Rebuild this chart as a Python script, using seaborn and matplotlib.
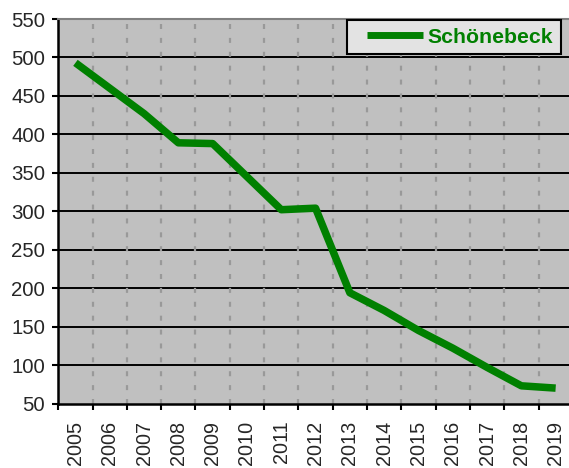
import matplotlib
matplotlib.use("Agg")
import matplotlib.pyplot as plt
from matplotlib.legend_handler import HandlerLine2D
import seaborn as sns
import pandas as pd

# values
years = [str(y) for y in range(2005, 2020)]
population = [493, 460, 427, 389, 388, 345, 302, 304, 194, 171, 145, 122, 97, 73, 70]
series_name = "Schönebeck"
y_ticks = list(range(50, 551, 50))

df = pd.DataFrame({"year": years, "value": population, "place": series_name})

sns.set_theme(style="white")
plt.rcParams["font.family"] = ["Liberation Sans", "DejaVu Sans"]
plt.rcParams["lines.scale_dashes"] = False

fig = plt.figure(figsize=(5.69, 4.68), dpi=100, facecolor="white")
ax = fig.add_axes([58.3 / 569, 1 - 403.5 / 468, 514.5 / 569, 384.5 / 468])
ax.set_facecolor("#C0C0C0")

# horizontal black grid + vertical dashed grey separators
for v in y_ticks[1:-1]:
    ax.axhline(v, color="black", lw=1.4, zorder=1)
for k in range(len(years) - 1):
    ax.axvline(k + 0.5, color="#999999", lw=1.6, dashes=(3.6, 6.4), zorder=1)

sns.lineplot(data=df, x="year", y="value", hue="place", palette=["#008000"],
             lw=5.4, ax=ax, zorder=3, solid_capstyle="butt", solid_joinstyle="round")

ax.set_xlim(-0.5, len(years) - 0.5)
ax.set_ylim(50, 550)
ax.set_yticks(y_ticks)
ax.set_xlabel("")
ax.set_ylabel("")

# category axis: tick marks at boundaries, labels in between
ax.set_xticks([k - 0.5 for k in range(len(years) + 1)])
ax.set_xticklabels([])
ax.set_xticks(range(len(years)), minor=True)
ax.set_xticklabels(years, minor=True, rotation=90, fontsize=14.3)
ax.tick_params(axis="x", which="major", direction="out", length=4.5, width=1.5,
               color="black", bottom=True)
ax.tick_params(axis="x", which="minor", length=0, pad=12.4)
ax.tick_params(axis="y", direction="out", length=4.5, width=1.5, color="black",
               left=True, labelsize=14.7, pad=5)

for s in ["left", "bottom"]:
    ax.spines[s].set_color("black")
    ax.spines[s].set_linewidth(1.8)
ax.spines["top"].set_color("#808080")
ax.spines["top"].set_linewidth(1.5)
ax.spines["right"].set_color("#808080")

handles, labels = ax.get_legend_handles_labels()
leg = ax.legend(handles, labels, loc="upper right", bbox_to_anchor=(0.977, 0.997),
                borderaxespad=0, frameon=True, fancybox=False, framealpha=1,
                facecolor="#E3E3E3", edgecolor="black", handlelength=3.2,
                handletextpad=0.25, borderpad=0.36,
                prop={"weight": "bold", "size": 15.3}, labelcolor="#008000",
                handler_map={handles[0]: HandlerLine2D(xpad=0.6)})
leg.get_frame().set_linewidth(1.5)
for h in leg.get_lines():
    h.set_linewidth(5)

fig.savefig("out.png", dpi=100, facecolor="white")
